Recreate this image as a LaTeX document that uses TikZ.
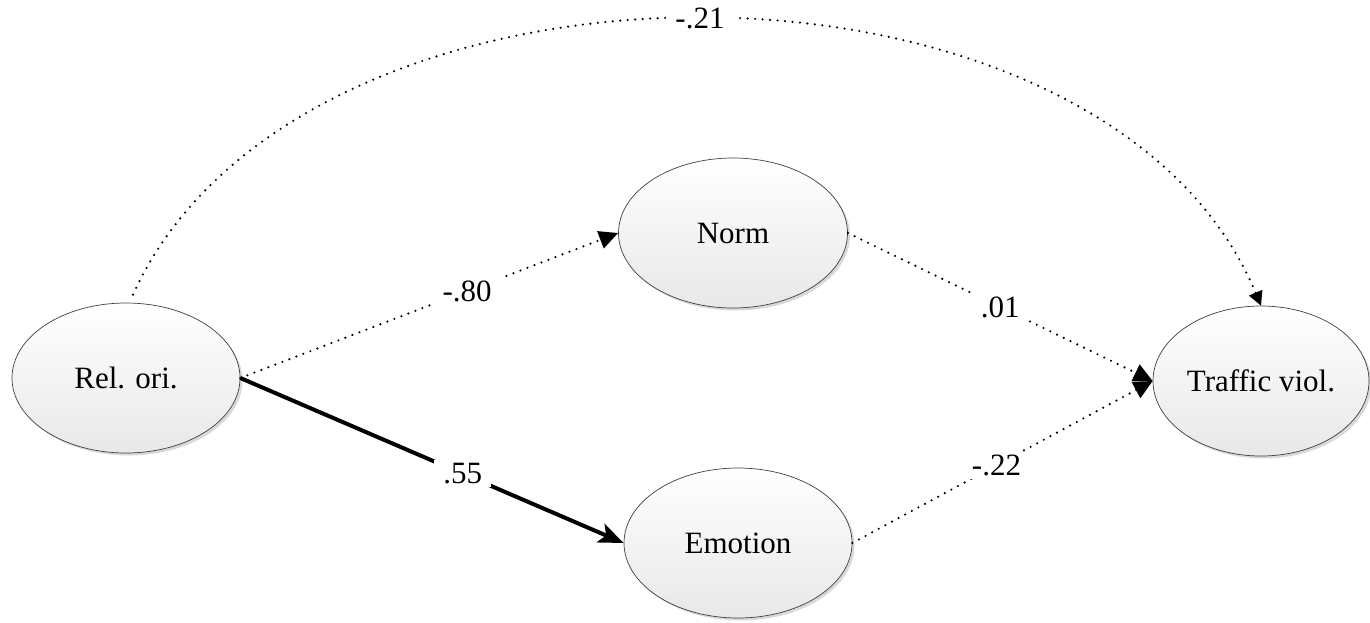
\documentclass[tikz,border=0pt]{standalone}
\usepackage{fontspec}
\setmainfont{Liberation Serif}
\usetikzlibrary{arrows.meta,shapes.geometric,shadows}
\begin{document}
\begin{tikzpicture}[x=1pt,y=-1pt,
  latent/.style={ellipse, draw=black!75, line width=0.7pt, inner sep=0pt,
    top color=white, bottom color=black!9,
    drop shadow={shadow xshift=2.5pt, shadow yshift=-2.5pt, fill=black!25, opacity=0.6},
    font=\fontsize{31}{35}\selectfont},
  dotline/.style={line width=2.4pt, line cap=round, dash pattern=on 0pt off 7.5pt},
  solidline/.style={line width=4pt},
  lbl/.style={fill=white, inner xsep=9pt, inner ysep=3pt, font=\fontsize{31}{35}\selectfont},
  tri/.style={-{Triangle[length=19pt,width=18pt,line cap=butt]}},
  smalltri/.style={-{Triangle[length=14pt,width=14pt]}},
  stl/.style={-{Stealth[length=25pt,width=20pt,inset=6pt]}}
]
\useasboundingbox (0,0) rectangle (1370,622);
\node[latent, minimum width=228pt, minimum height=150pt] (rel) at (126,378) {Rel. ori.};
\node[latent, minimum width=229pt, minimum height=150pt] (norm) at (733,233) {Norm};
\node[latent, minimum width=228pt, minimum height=150pt] (emo) at (738,543) {Emotion};
\node[latent, minimum width=216pt, minimum height=150pt] (tv) at (1261,381) {Traffic viol.};

\draw[dotline, smalltri] ([xshift=7pt,yshift=8pt]rel.north) .. controls (300,-75) and (1102,-75) .. (tv.north)
  node[pos=0.5, lbl] {-.21};
\draw[dotline, tri] (rel.east) -- (norm.west) node[pos=0.6, lbl] {-.80};
\draw[solidline, stl] (rel.east) -- (emo.west) node[pos=0.58, lbl] {.55};
\draw[dotline, tri] (norm.east) -- (tv.west) node[pos=0.5, lbl] {.01};
\draw[dotline, tri] (emo.east) -- (tv.west) node[pos=0.48, lbl] {-.22};
\end{tikzpicture}
\end{document}
